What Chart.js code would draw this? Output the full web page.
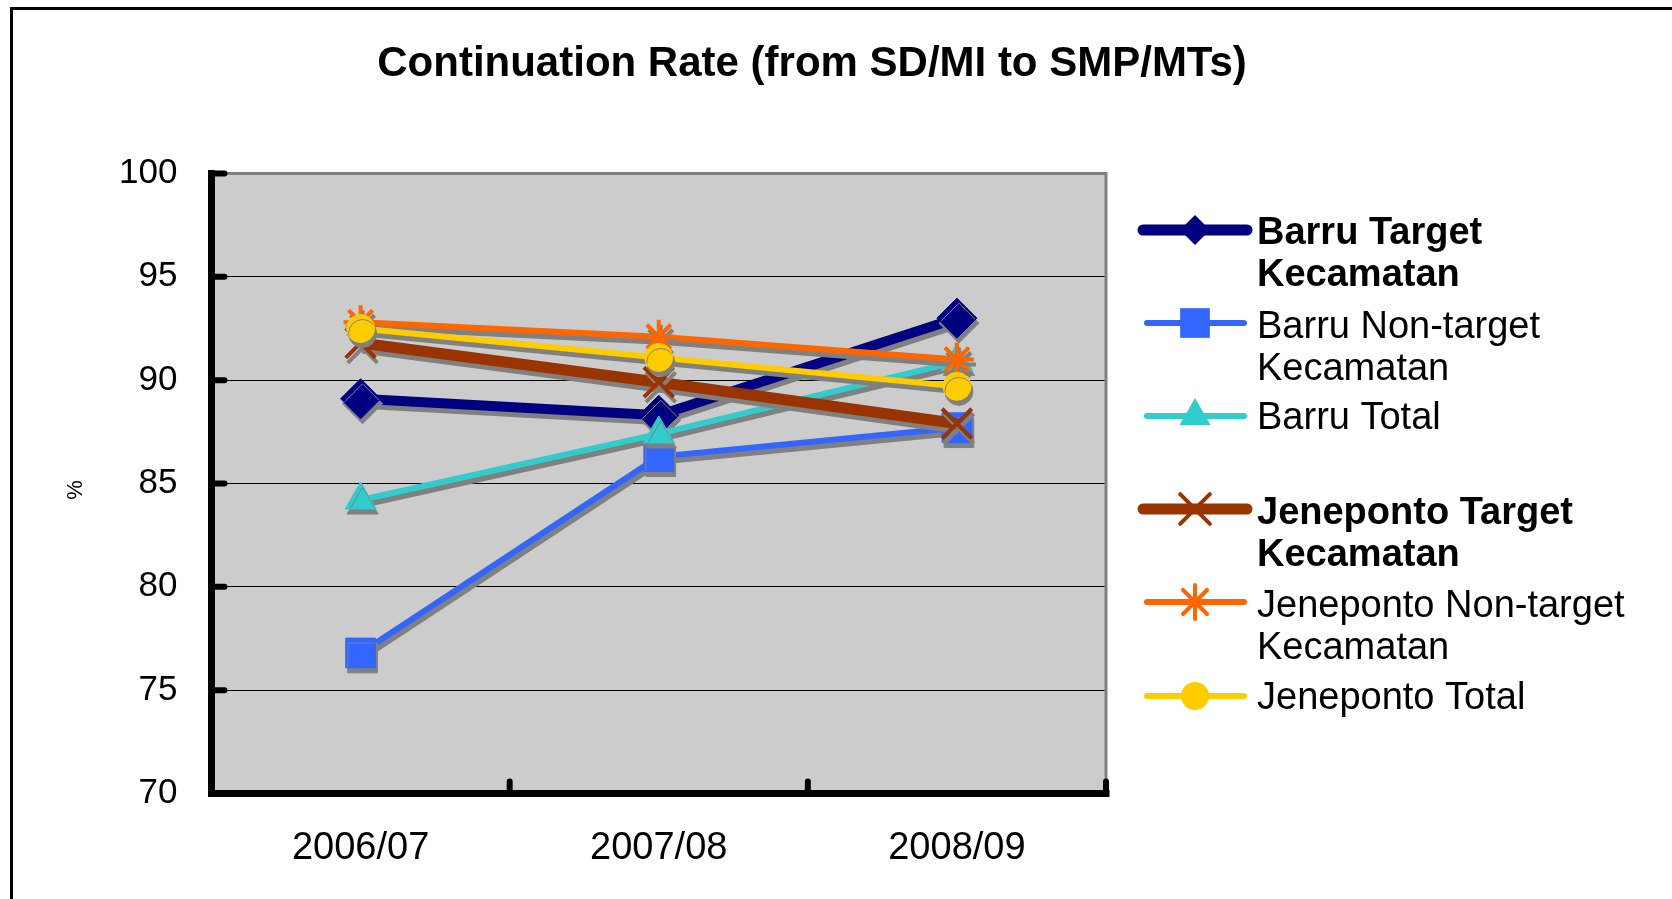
<!DOCTYPE html>
<html>
<head>
  <meta charset="UTF-8" />
  <title>Continuation Rate (from SD/MI to SMP/MTs)</title>
  <script src="https://cdn.jsdelivr.net/npm/chart.js"></script>
  <style>
    body {
      margin: 0;
      background-color: #ffffff;
      font-family: "Liberation Sans", Arial, sans-serif;
    }
    #grafico {
      position: absolute;
      left: 0;
      top: 0;
    }
  </style>
</head>
<body>
  <canvas id="grafico" width="1672" height="899"></canvas>

  <script>
    // dados
    const anos = ['2006/07', '2007/08', '2008/09'];
    const barruTarget = [89.1, 88.3, 93.0];
    const barruNonTarget = [76.8, 86.3, 87.7];
    const barruTotal = [84.2, 87.4, 90.9];
    const jeneTarget = [91.8, 89.9, 87.9];
    const jeneNonTarget = [92.8, 92.1, 91.0];
    const jeneTotal = [92.5, 91.1, 89.7];
    const yTicks = [70, 75, 80, 85, 90, 95, 100];

    const titulo = 'Continuation Rate (from SD/MI to SMP/MTs)';

    const series = [
      { nome: ['Barru Target', 'Kecamatan'], dados: barruTarget, cor: '#000080', estilo: 'rectRot', raio: 20, largura: 10, bold: true },
      { nome: ['Barru Non-target', 'Kecamatan'], dados: barruNonTarget, cor: '#3366FF', estilo: 'rect', raio: 21, largura: 6, bold: false },
      { nome: ['Barru Total'], dados: barruTotal, cor: '#33CCCC', estilo: 'triangle', raio: 18, largura: 6, bold: false },
      { nome: ['Jeneponto Target', 'Kecamatan'], dados: jeneTarget, cor: '#993300', estilo: 'crossRot', raio: 21, largura: 11, bold: true },
      { nome: ['Jeneponto Non-target', 'Kecamatan'], dados: jeneNonTarget, cor: '#FF6600', estilo: 'star', raio: 17, largura: 6, bold: false },
      { nome: ['Jeneponto Total'], dados: jeneTotal, cor: '#FFCC00', estilo: 'circle', raio: 14, largura: 6, bold: false }
    ];

    // posições da legenda (y da amostra, y da primeira linha de texto)
    const legendaY = [[230, 234], [323, 328], [416, 419], [509, 514], [602, 607], [696, 699]];

    function desenharMarcador(ctx, estilo, r, x, y, cor) {
      ctx.save();
      ctx.fillStyle = cor;
      ctx.strokeStyle = cor;
      ctx.lineCap = 'round';
      ctx.beginPath();
      if (estilo === 'rectRot') {
        ctx.moveTo(x - r, y); ctx.lineTo(x, y - r); ctx.lineTo(x + r, y); ctx.lineTo(x, y + r);
        ctx.closePath(); ctx.fill();
      } else if (estilo === 'rect') {
        const s = r * Math.SQRT1_2;
        ctx.rect(x - s, y - s, 2 * s, 2 * s); ctx.fill();
      } else if (estilo === 'triangle') {
        ctx.moveTo(x, y - r);
        ctx.lineTo(x + r * 0.866, y + r * 0.5);
        ctx.lineTo(x - r * 0.866, y + r * 0.5);
        ctx.closePath(); ctx.fill();
      } else if (estilo === 'circle') {
        ctx.arc(x, y, r, 0, Math.PI * 2); ctx.fill();
      } else if (estilo === 'crossRot' || estilo === 'star') {
        const d = r * Math.SQRT1_2;
        ctx.lineWidth = 4;
        ctx.moveTo(x - d, y - d); ctx.lineTo(x + d, y + d);
        ctx.moveTo(x - d, y + d); ctx.lineTo(x + d, y - d);
        if (estilo === 'star') {
          ctx.moveTo(x, y - r); ctx.lineTo(x, y + r);
        }
        ctx.stroke();
      }
      ctx.restore();
    }

    const decoracao = {
      id: 'decoracao',
      beforeDraw(chart) {
        const { ctx, chartArea: a } = chart;
        ctx.save();
        ctx.fillStyle = '#ffffff';
        ctx.fillRect(0, 0, chart.width, chart.height);
        ctx.fillStyle = '#cccccc';
        ctx.fillRect(a.left, a.top, a.right - a.left, a.bottom - a.top);
        // moldura externa
        ctx.fillStyle = '#000000';
        ctx.fillRect(10, 7, 3, chart.height);
        ctx.fillRect(10, 7, chart.width, 3);
        ctx.restore();
      },
      beforeDatasetsDraw(chart) {
        const { ctx, chartArea: a, scales } = chart;
        ctx.save();
        // borda cinza
        ctx.strokeStyle = '#808080';
        ctx.lineWidth = 3;
        ctx.beginPath();
        ctx.moveTo(a.left, a.top);
        ctx.lineTo(a.right, a.top);
        ctx.lineTo(a.right, a.bottom);
        ctx.stroke();
        // eixos pretos
        ctx.strokeStyle = '#000000';
        ctx.lineWidth = 7;
        ctx.lineCap = 'square';
        ctx.beginPath();
        ctx.moveTo(a.left, a.top);
        ctx.lineTo(a.left, a.bottom);
        ctx.lineTo(a.right, a.bottom);
        ctx.stroke();
        // marcas para dentro
        ctx.lineCap = 'round';
        ctx.lineWidth = 6;
        ctx.beginPath();
        yTicks.forEach(v => {
          const y = scales.y.getPixelForValue(v);
          ctx.moveTo(a.left, y);
          ctx.lineTo(a.left + 13, y);
        });
        for (let k = 0; k <= anos.length; k++) {
          const x = scales.x.getPixelForValue(k - 0.5);
          ctx.moveTo(x, a.bottom);
          ctx.lineTo(x, a.bottom - 12);
        }
        ctx.stroke();
        ctx.restore();
      },
      beforeDatasetDraw(chart) {
        const ctx = chart.ctx;
        ctx.save();
        ctx.shadowColor = '#808080';
        ctx.shadowOffsetX = 2;
        ctx.shadowOffsetY = 5;
        ctx.shadowBlur = 0;
      },
      afterDatasetDraw(chart) {
        chart.ctx.restore();
      },
      afterDraw(chart) {
        const ctx = chart.ctx;
        ctx.save();
        ctx.fillStyle = '#000000';
        ctx.textBaseline = 'middle';

        // título
        ctx.font = 'bold 42px "Liberation Sans", Arial, sans-serif';
        ctx.textAlign = 'center';
        ctx.fillText(titulo, 812, 64);

        // título do eixo y
        ctx.save();
        ctx.translate(76, 490);
        ctx.rotate(-Math.PI / 2);
        ctx.font = '22px "Liberation Sans", Arial, sans-serif';
        ctx.fillText('%', 0, 0);
        ctx.restore();

        // legenda
        ctx.textAlign = 'left';
        series.forEach((s, i) => {
          const [ya, yt] = legendaY[i];
          ctx.save();
          ctx.strokeStyle = s.cor;
          ctx.lineCap = 'round';
          ctx.lineWidth = s.bold ? 11 : 6;
          ctx.beginPath();
          ctx.moveTo(s.bold ? 1143 : 1147, ya);
          ctx.lineTo(s.bold ? 1247 : 1244, ya);
          ctx.stroke();
          ctx.restore();
          desenharMarcador(ctx, s.estilo, s.estilo === 'rectRot' ? 15 : s.raio, 1195, ya, s.cor);
          ctx.font = (s.bold ? 'bold ' : '') + '38px "Liberation Sans", Arial, sans-serif';
          s.nome.forEach((linha, j) => {
            ctx.fillText(linha, 1257, yt + j * 41.5);
          });
        });
        ctx.restore();
      }
    };

    const ctxGrafico = document.getElementById('grafico').getContext('2d');
    const grafico = new Chart(ctxGrafico, {
      type: 'line',
      data: {
        labels: anos,
        datasets: series.map((s, i) => ({
          label: s.nome.join(' '),
          data: s.dados,
          borderColor: s.cor,
          backgroundColor: s.cor,
          borderWidth: s.largura,
          pointStyle: s.estilo,
          pointRadius: s.raio,
          pointBackgroundColor: s.cor,
          pointBorderColor: s.cor,
          pointBorderWidth: (s.estilo === 'crossRot' || s.estilo === 'star') ? 4 : 1,
          tension: 0,
          fill: false,
          order: series.length - 1 - i
        }))
      },
      options: {
        responsive: false,
        animation: false,
        devicePixelRatio: 1,
        layout: { padding: { top: 173.5, right: 566, left: 0, bottom: 0 } },
        plugins: {
          legend: { display: false },
          title: { display: false },
          tooltip: { enabled: false }
        },
        scales: {
          x: {
            offset: true,
            afterFit(scale) { scale.height = 105.5; },
            grid: { display: false, drawTicks: false },
            border: { display: false },
            ticks: {
              color: '#000000',
              padding: 32,
              font: { family: '"Liberation Sans", Arial, sans-serif', size: 38 }
            }
          },
          y: {
            min: 70,
            max: 100,
            afterFit(scale) { scale.width = 211.5; },
            grid: {
              drawTicks: false,
              lineWidth: 1,
              color: c => (c.tick && c.tick.value > 70 && c.tick.value < 100) ? '#000000' : 'rgba(0,0,0,0)'
            },
            border: { display: false },
            ticks: {
              stepSize: 5,
              color: '#000000',
              padding: 34,
              font: { family: '"Liberation Sans", Arial, sans-serif', size: 35 }
            }
          }
        }
      },
      plugins: [decoracao]
    });
  </script>
</body>
</html>
